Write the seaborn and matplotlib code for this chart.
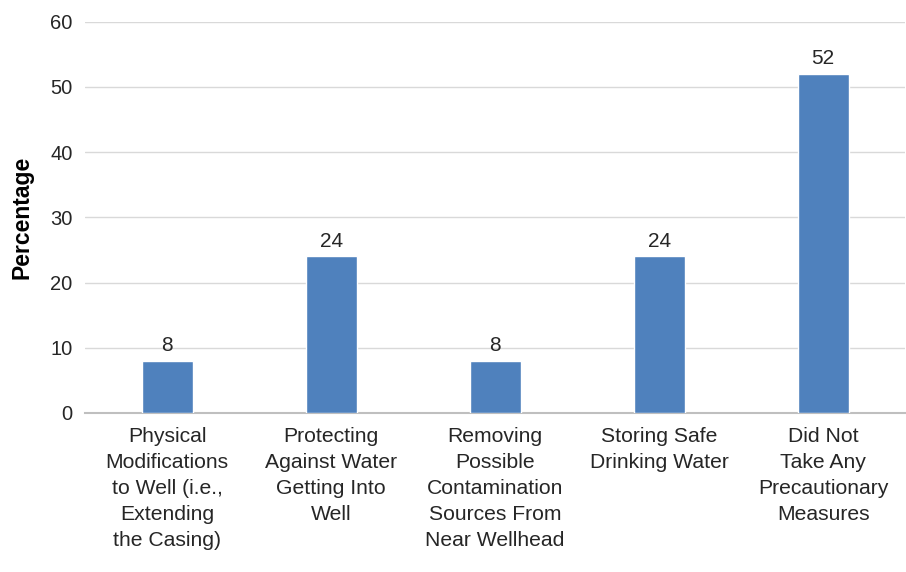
import matplotlib
matplotlib.use("Agg")
import matplotlib.pyplot as plt
import seaborn as sns
import pandas as pd

categories = [
    "Physical\nModifications\nto Well (i.e.,\nExtending\nthe Casing)",
    "Protecting\nAgainst Water\nGetting Into\nWell",
    "Removing\nPossible\nContamination\nSources From\nNear Wellhead",
    "Storing Safe\nDrinking Water",
    "Did Not\nTake Any\nPrecautionary\nMeasures",
]
values = [8, 24, 8, 24, 52]
yticks = [0, 10, 20, 30, 40, 50, 60]

sns.set_theme(style="white")
plt.rcParams['font.family'] = ['Liberation Sans', 'DejaVu Sans']

df = pd.DataFrame({"cat": categories, "val": values})
fig = plt.figure(figsize=(9.06, 5.72), dpi=100)
ax = fig.add_axes([0.094, 0.278, 0.905, 0.684])
sns.barplot(data=df, x="cat", y="val", color="#4f81bd", width=0.31, saturation=1, ax=ax, zorder=3)

ax.set_ylim(0, 60)
ax.set_yticks(yticks)
ax.set_xlim(-0.5, len(categories) - 0.5)
ax.yaxis.grid(True, color="#d9d9d9", linewidth=1, zorder=0)
ax.set_axisbelow(True)
for s in ["top", "right", "left"]:
    ax.spines[s].set_visible(False)
ax.spines["bottom"].set_color("#bfbfbf")
ax.spines["bottom"].set_linewidth(1.5)
ax.tick_params(axis="y", length=0, labelsize=14.5, colors="#262626", pad=9)
ax.tick_params(axis="x", length=0, labelsize=15.2, colors="#262626", pad=10)
for lbl in ax.get_xticklabels():
    lbl.set_linespacing(1.47)
ax.set_xlabel("")
ax.set_ylabel("Percentage", fontsize=16.5, fontweight="bold", color="#000000", labelpad=12)

for c in ax.containers:
    ax.bar_label(c, labels=[str(v) for v in values], padding=4, fontsize=15, color="#262626")

fig.savefig("out.png", dpi=100)
